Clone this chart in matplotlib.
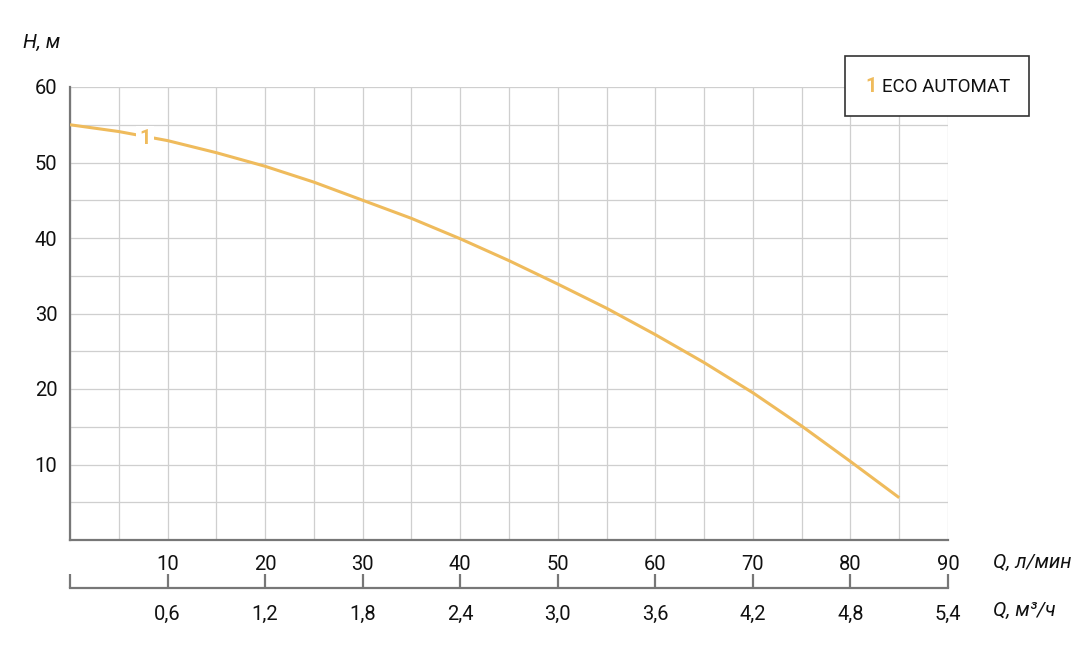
import matplotlib
matplotlib.use("Agg")
import matplotlib.pyplot as plt
from matplotlib.ticker import MultipleLocator

plt.rcParams['font.family'] = ['Roboto', 'DejaVu Sans']

# Data
flow_lpm = [0, 5, 10, 15, 20, 25, 30, 35, 40, 45, 50, 55, 60, 65, 70, 75, 80, 85]
head_m = [55.0, 54.1, 52.9, 51.3, 49.5, 47.4, 45.0, 42.6, 39.9, 37.0, 33.9, 30.7,
          27.2, 23.5, 19.5, 15.1, 10.4, 5.6]

x_ticks_lpm = [10, 20, 30, 40, 50, 60, 70, 80, 90]
y_ticks = [10, 20, 30, 40, 50, 60]
x_ticks_m3h = [0.6, 1.2, 1.8, 2.4, 3.0, 3.6, 4.2, 4.8, 5.4]
x_labels_m3h = ['0,6', '1,2', '1,8', '2,4', '3,0', '3,6', '4,2', '4,8', '5,4']
series_name = 'ECO AUTOMAT'

FS = 14.5
W, H = 1078, 657
fig = plt.figure(figsize=(W / 100, H / 100), dpi=100)

L, R, T, B = 70, 948, 87, 540
ax = fig.add_axes([L / W, 1 - B / H, (R - L) / W, (B - T) / H])
ax.set_xlim(0, 90)
ax.set_ylim(0, 60)

curve_color = '#EFBB5C'
ax.plot(flow_lpm, head_m, color=curve_color, lw=2.2, solid_capstyle='butt', zorder=3)
ax.text(7.7, 53.2, '1', color=curve_color, fontsize=FS, fontweight='bold',
        ha='center', va='center', zorder=4,
        bbox=dict(boxstyle='square,pad=0.15', fc='white', ec='none'))

ax.xaxis.set_minor_locator(MultipleLocator(5))
ax.yaxis.set_minor_locator(MultipleLocator(5))
ax.set_xticks(x_ticks_lpm)
ax.set_yticks(y_ticks)
ax.grid(True, which='both', color='#cfcfcf', lw=0.9, zorder=0)
ax.set_axisbelow(True)
ax.tick_params(which='both', length=0, labelsize=FS, colors='#111111')
ax.tick_params(axis='x', pad=11)
ax.tick_params(axis='y', pad=9)
for s in ['top', 'right']:
    ax.spines[s].set_visible(False)
for s in ['left', 'bottom']:
    ax.spines[s].set_color('#777777')
    ax.spines[s].set_linewidth(1.6)

fig.text(23 / W, 1 - 42 / H, 'H, м', fontsize=FS, style='italic', ha='left', va='center', color='#111111')
fig.text(993 / W, 1 - 562 / H, 'Q, л/мин', fontsize=FS, style='italic', ha='left', va='center', color='#111111')
fig.text(993 / W, 1 - 610 / H, 'Q, м³/ч', fontsize=FS, style='italic', ha='left', va='center', color='#111111')

# secondary flow axis (m3/h)
yl = 588
ax2 = fig.add_axes([L / W, 1 - yl / H, (R - L) / W, 0.001])
ax2.set_xlim(0, 5.4)
ax2.set_yticks([])
for s in ['top', 'right', 'left']:
    ax2.spines[s].set_visible(False)
ax2.spines['bottom'].set_color('#777777')
ax2.spines['bottom'].set_linewidth(1.6)
ax2.patch.set_visible(False)
ax2.set_xticks([0] + x_ticks_m3h)
ax2.set_xticklabels([''] + x_labels_m3h)
ax2.tick_params(axis='x', direction='in', length=10, width=1.6, color='#777777',
                labelsize=FS, labelcolor='#111111', pad=12)

# legend box
lx0, ly0, lx1, ly1 = 845, 56, 1029, 116
fig.patches.append(plt.Rectangle((lx0 / W, 1 - ly1 / H), (lx1 - lx0) / W, (ly1 - ly0) / H,
                                 transform=fig.transFigure, fc='white', ec='#333333', lw=1.2))
fig.text(877 / W, 1 - 87 / H, '1', fontsize=FS, fontweight='bold', color=curve_color, ha='right', va='center')
fig.text(882 / W, 1 - 87 / H, series_name, fontsize=FS * 0.93, color='#111111', ha='left', va='center')

fig.savefig('out.png', dpi=100)
